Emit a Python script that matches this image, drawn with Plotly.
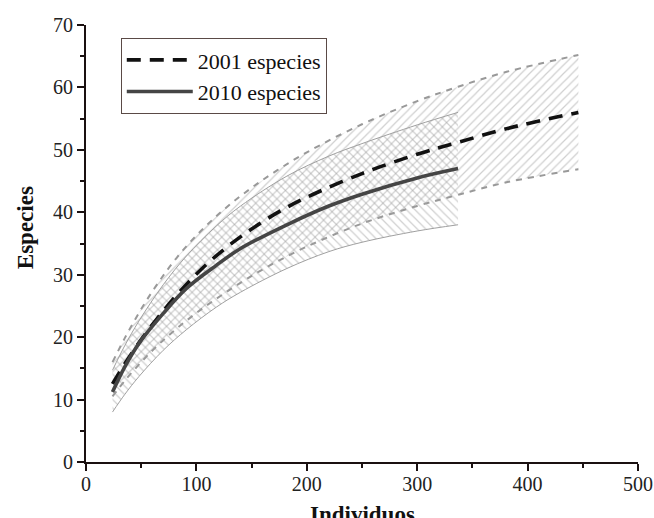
import plotly.graph_objects as go

# ---- data ----
x2001 = [24, 35, 50, 65, 83, 104, 126, 149, 173, 200, 250, 300, 337, 381, 446]
mean2001 = [12.5, 15.7, 19.6, 23.1, 26.9, 30.8, 34.2, 37.2, 39.9, 42.4, 46.2, 49.3, 51.2, 53.4, 56.0]
upper2001 = [16.0, 19.8, 24.5, 28.6, 32.9, 37.0, 40.6, 43.8, 46.7, 49.6, 54.1, 57.8, 60.1, 62.5, 65.2]
lower2001 = [10.5, 13.0, 16.0, 18.7, 21.5, 24.4, 27.1, 29.7, 32.1, 34.5, 38.2, 41.0, 42.8, 44.8, 46.9]

x2010 = [24, 35, 48, 70, 91, 118, 140, 182, 220, 250, 300, 337]
mean2010 = [11.2, 15.2, 19.0, 23.8, 27.8, 31.5, 34.2, 38.0, 41.0, 42.9, 45.5, 47.0]
upper2010 = [14.7, 18.6, 22.6, 28.4, 33.0, 37.8, 41.0, 45.8, 49.0, 51.0, 54.0, 56.0]
lower2010 = [8.0, 10.8, 13.7, 17.9, 21.2, 24.8, 27.2, 31.0, 33.7, 35.2, 37.0, 38.0]

legend_names = ["2001 especies", "2010 especies"]
x_ticks = [0, 100, 200, 300, 400, 500]
y_ticks = [0, 10, 20, 30, 40, 50, 60, 70]
x_title = "Individuos"
y_title = "Especies"

SERIF = "Liberation Serif, Times New Roman, serif"
HATCH = "#a0a0a0"

fig = go.Figure()

# 2001 band: lower bound, then upper bound filled down to it (hatched "/")
fig.add_trace(go.Scatter(x=x2001, y=lower2001, mode="lines", line_shape="spline",
                         line=dict(color="#999999", width=2, dash="6px,6px"),
                         showlegend=False, hoverinfo="skip"))
fig.add_trace(go.Scatter(x=x2001, y=upper2001, mode="lines", line_shape="spline",
                         line=dict(color="#999999", width=2, dash="6px,6px"),
                         fill="tonexty", fillcolor="rgba(0,0,0,0)",
                         fillpattern=dict(shape="/", fgcolor=HATCH, bgcolor="rgba(0,0,0,0)",
                                          size=6, solidity=0.2, fillmode="overlay"),
                         showlegend=False, hoverinfo="skip"))

# 2010 band (hatched "\")
fig.add_trace(go.Scatter(x=x2010, y=lower2010, mode="lines", line_shape="spline",
                         line=dict(color="#a0a0a0", width=1),
                         showlegend=False, hoverinfo="skip"))
fig.add_trace(go.Scatter(x=x2010, y=upper2010, mode="lines", line_shape="spline",
                         line=dict(color="#a0a0a0", width=1),
                         fill="tonexty", fillcolor="rgba(0,0,0,0)",
                         fillpattern=dict(shape="\\", fgcolor=HATCH, bgcolor="rgba(0,0,0,0)",
                                          size=6, solidity=0.2, fillmode="overlay"),
                         showlegend=False, hoverinfo="skip"))

# mean curves
fig.add_trace(go.Scatter(x=x2001, y=mean2001, mode="lines", name=legend_names[0],
                         line_shape="spline",
                         line=dict(color="#111111", width=3.6, dash="14px,9px")))
fig.add_trace(go.Scatter(x=x2010, y=mean2010, mode="lines", name=legend_names[1],
                         line_shape="spline",
                         line=dict(color="#454545", width=3.6)))

axis_common = dict(
    showline=True, linecolor="#1a1010", linewidth=2, showgrid=False, zeroline=False,
    ticks="outside", ticklen=7, tickwidth=2, tickcolor="#1a1010",
    tickfont=dict(family=SERIF, size=20, color="#222222"),
    mirror=False, automargin=False,
)

fig.update_layout(
    width=654, height=518,
    margin=dict(l=86, r=16, t=25, b=56),
    paper_bgcolor="white", plot_bgcolor="white",
    xaxis=dict(range=[0, 500], tickvals=x_ticks, ticklabelstandoff=-4,
               minor=dict(dtick=50, ticks="outside", ticklen=4, tickwidth=2, tickcolor="#1a1010"),
               **axis_common),
    yaxis=dict(range=[0, 70], tickvals=y_ticks,
               minor=dict(dtick=5, ticks="outside", ticklen=4, tickwidth=2, tickcolor="#1a1010"),
               **axis_common),
    legend=dict(x=0.063, y=0.97, xanchor="left", yanchor="top", traceorder="normal",
                bgcolor="white", bordercolor="#5a4a46", borderwidth=1,
                font=dict(family=SERIF, size=22, color="#111"),
                tracegroupgap=0, itemwidth=66),
    showlegend=True,
    annotations=[
        dict(text="<b>%s</b>" % x_title, xref="paper", yref="paper", x=0.5, y=0,
             xanchor="center", yanchor="top", yshift=-38, showarrow=False,
             font=dict(family=SERIF, size=23, color="#111")),
        dict(text="<b>%s</b>" % y_title, xref="paper", yref="paper", x=0, y=0.535,
             xanchor="center", yanchor="middle", xshift=-61, textangle=-90, showarrow=False,
             font=dict(family=SERIF, size=23, color="#111")),
    ],
)

# the page's default 8 px body margin would shift the figure; remove it
fig.write_html("out.html", config={"displayModeBar": False},
               post_script="document.body.style.margin='0';")
